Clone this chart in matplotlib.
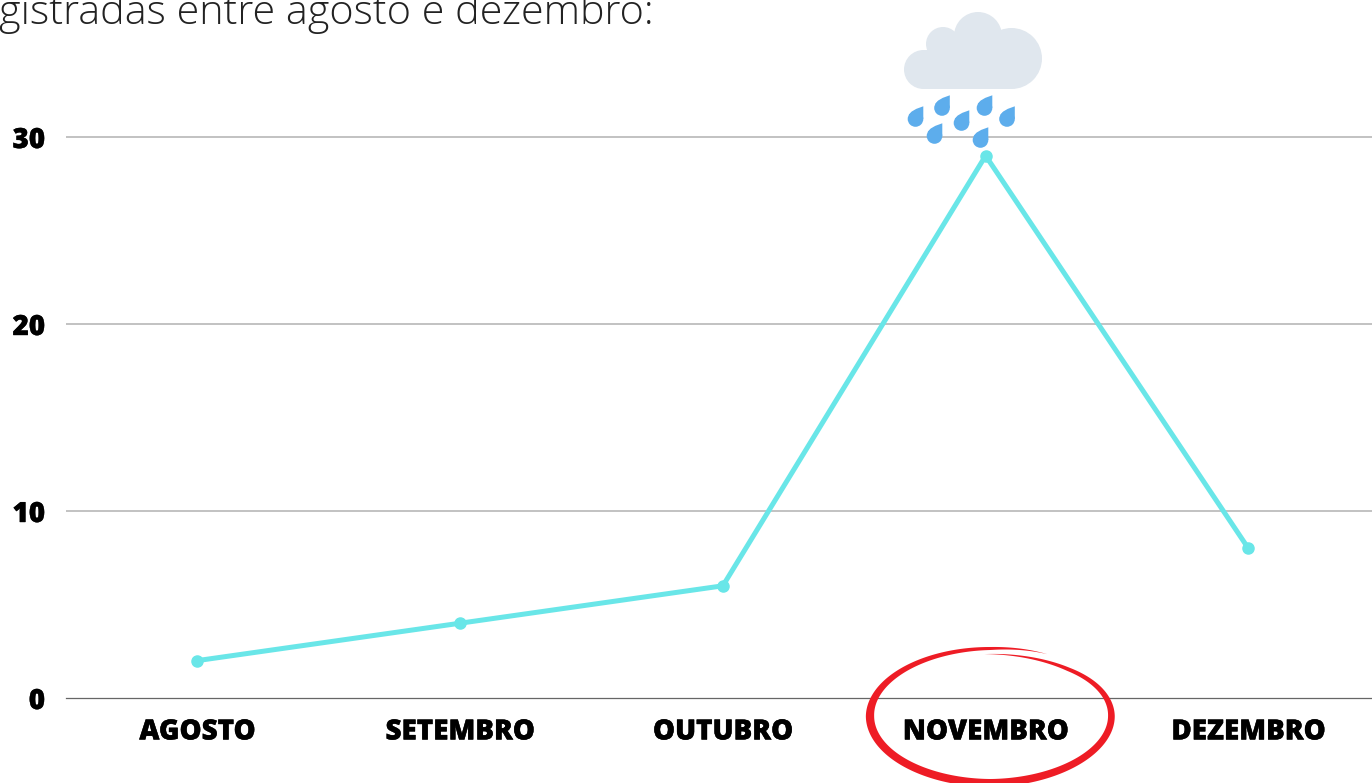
import numpy as np
import matplotlib
matplotlib.use("Agg")
import matplotlib.pyplot as plt
import matplotlib.patheffects as pe
from matplotlib.patches import Circle, Polygon, Rectangle

months = ["AGOSTO", "SETEMBRO", "OUTUBRO", "NOVEMBRO", "DEZEMBRO"]
values = [2, 4, 6, 29, 8]
y_ticks = [0, 10, 20, 30]
title = "gistradas entre agosto e dezembro:"

W, H = 1372, 783
fig = plt.figure(figsize=(W / 100, H / 100), dpi=100)

# overlay in pixel coords for the cloud, the circle and the cut off title
over = fig.add_axes([0, 0, 1, 1], zorder=3)
over.set_xlim(0, W)
over.set_ylim(H, 0)
over.axis("off")

# 0 is at y=698, 30 at y=137, the bands are 262.75 px wide
ax = fig.add_axes([66 / W, (H - 698) / H, (W - 66) / W, 698 / H], zorder=2)
ax.patch.set_alpha(0)
ax.set_xlim(-0.5, (W - 66) / 262.75 - 0.5)
ax.set_ylim(0, 698 / 18.7)

for s in ax.spines.values():
    s.set_visible(False)
ax.spines["bottom"].set_visible(True)
ax.spines["bottom"].set_color("#666666")
ax.spines["bottom"].set_linewidth(0.9)

ax.set_yticks(y_ticks)
ax.set_xticks(range(len(months)))
ax.set_xticklabels(months)
ax.tick_params(length=0)
ax.tick_params(axis="x", pad=14)
ax.tick_params(axis="y", pad=15)
for lab in ax.get_xticklabels() + ax.get_yticklabels():
    lab.set_family("Open Sans")
    lab.set_weight(800)
    lab.set_fontsize(20)
    lab.set_color("black")
    lab.set_path_effects([pe.withStroke(linewidth=0.3, foreground="black")])

for t in y_ticks[1:]:
    ax.axhline(t, color="#b8b8b8", lw=1.2, zorder=1)

ax.plot(range(len(months)), values, color="#69e6e8", lw=3.6, marker="o", ms=8, zorder=3, clip_on=False)

over.text(-1, 24.5, title, family="Open Sans", weight=300, fontsize=29.8, color="#222222", va="baseline", ha="left")

# cloud
cloud = "#e0e7ee"
for cx, cy, r in [(923.5, 69.5, 19.5), (943, 44, 17), (978, 36, 24), (1011.5, 58.5, 30.5)]:
    over.add_patch(Circle((cx, cy), r, fc=cloud, ec="none"))
over.add_patch(Rectangle((923.5, 50), 88, 39, fc=cloud, ec="none"))
over.add_patch(Polygon([(930, 50), (960, 28), (1000, 30), (1011, 60)], fc=cloud, ec="none"))

# drops
drop = "#5dadec"
drops = [(915.5, 119), (942, 108), (961.5, 123), (984.5, 108), (1007, 119), (934.5, 136), (980.5, 140)]
r = 7.8
for cx, cy in drops:
    over.add_patch(Circle((cx, cy), r, fc=drop, ec="none"))
    over.add_patch(Polygon([(cx + r, cy - 12.7), (cx + r, cy), (cx - 0.87 * r, cy - 0.5 * r),
                            (cx - 0.5 * r, cy - 0.95 * r), (cx + 0.1 * r, cy - 1.3 * r)], fc=drop, ec="none"))

# hand drawn red circle, stroke gets thin at both ends
th = np.radians(np.linspace(62, 453, 400))
deg = np.degrees(th)
ry = np.interp(deg, [62, 90, 180, 270, 360, 410, 453], [70, 67.5, 66, 67, 64, 61, 62])
wd = np.interp(deg, [62, 90, 135, 180, 270, 360, 410, 453], [0, 3, 5.5, 8.3, 8, 6.7, 4, 0])
cx, cy, rx = 990.7, 716, 120.7
outer = np.c_[cx + (rx + wd / 2) * np.cos(th), cy - (ry + wd / 2) * np.sin(th)]
inner = np.c_[cx + (rx - wd / 2) * np.cos(th), cy - (ry - wd / 2) * np.sin(th)]
over.add_patch(Polygon(np.r_[outer, inner[::-1]], fc="#ee1c25", ec="none"))

fig.savefig("out.png", dpi=100)
